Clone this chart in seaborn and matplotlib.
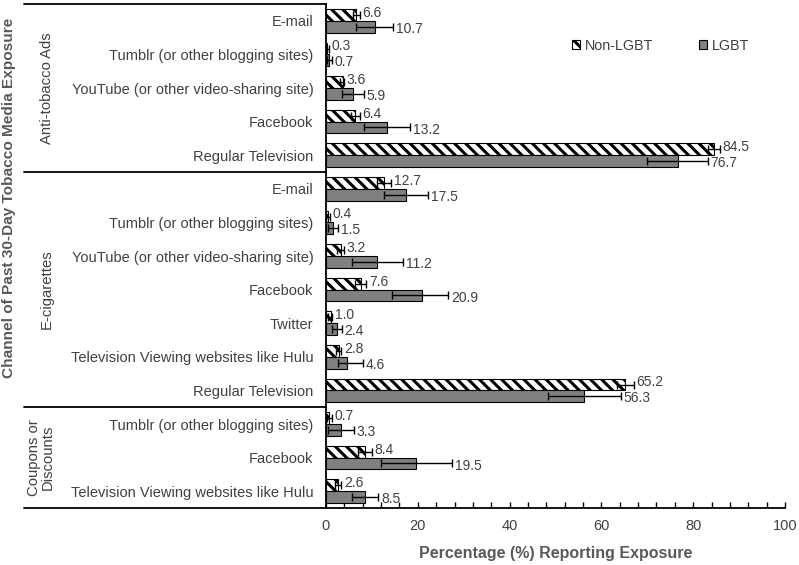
import numpy as np
import pandas as pd
import seaborn as sns
import matplotlib.pyplot as plt
import matplotlib.transforms as mtransforms
from matplotlib.ticker import MultipleLocator

groups = ["Anti-tobacco Ads"] * 5 + ["E-cigarettes"] * 7 + ["Coupons or\nDiscounts"] * 3
channels = [
    "E-mail", "Tumblr (or other blogging sites)", "YouTube (or other video-sharing site)",
    "Facebook", "Regular Television",
    "E-mail", "Tumblr (or other blogging sites)", "YouTube (or other video-sharing site)",
    "Facebook", "Twitter", "Television Viewing websites like Hulu", "Regular Television",
    "Tumblr (or other blogging sites)", "Facebook", "Television Viewing websites like Hulu",
]
non_lgbt = [6.6, 0.3, 3.6, 6.4, 84.5, 12.7, 0.4, 3.2, 7.6, 1.0, 2.8, 65.2, 0.7, 8.4, 2.6]
non_lgbt_lo = [5.8, 0.1, 3.0, 5.4, 83.2, 11.2, 0.1, 2.4, 6.4, 0.5, 2.2, 63.3, 0.3, 7.0, 1.9]
non_lgbt_hi = [7.4, 0.6, 3.9, 7.4, 85.8, 14.2, 0.8, 3.9, 8.8, 1.3, 3.3, 67.1, 1.2, 10.0, 3.3]
lgbt = [10.7, 0.7, 5.9, 13.2, 76.7, 17.5, 1.5, 11.2, 20.9, 2.4, 4.6, 56.3, 3.3, 19.5, 8.5]
lgbt_lo = [6.5, 0.2, 3.5, 8.3, 70.0, 12.6, 0.5, 5.7, 14.4, 1.3, 2.6, 48.4, 0.4, 12.0, 5.7]
lgbt_hi = [14.6, 1.3, 8.3, 18.3, 83.2, 22.2, 2.7, 16.8, 26.6, 3.4, 8.1, 64.3, 6.1, 27.5, 11.4]
series = ["Non-LGBT", "LGBT"]

rows = [f"{g}|{c}" for g, c in zip(groups, channels)]
df = pd.DataFrame({
    "row": rows * 2,
    "series": [series[0]] * len(rows) + [series[1]] * len(rows),
    "value": non_lgbt + lgbt,
})

sns.set_style("white")
plt.rcParams["font.family"] = ["Liberation Sans", "DejaVu Sans"]
plt.rcParams["hatch.linewidth"] = 2.2
grey_text = "#404040"

fig = plt.figure(figsize=(7.99, 5.65), dpi=100)
ax = fig.add_axes([326 / 799, 1 - 508 / 565, 459 / 799, 504 / 565])

sns.barplot(data=df, x="value", y="row", hue="series", orient="h", order=rows,
            hue_order=series, palette={"Non-LGBT": "white", "LGBT": "#808080"},
            saturation=1, width=0.7, edgecolor="black", linewidth=0.8,
            errorbar=None, legend=False, ax=ax)
bar_containers = list(ax.containers)

stats = [(non_lgbt, non_lgbt_lo, non_lgbt_hi), (lgbt, lgbt_lo, lgbt_hi)]
for i, (cont, (vals, lo, hi)) in enumerate(zip(bar_containers, stats)):
    if i == 0:
        for bar in cont:
            bar.set_hatch("\\\\\\")
    vals, lo, hi = np.array(vals), np.array(lo), np.array(hi)
    ys = np.array([b.get_y() + b.get_height() / 2 for b in cont])
    ax.errorbar(vals, ys, xerr=[vals - lo, hi - vals], fmt="none", ecolor="black",
                elinewidth=1, capsize=3, capthick=1)
    nudge = 1.5 if i == 0 else -1.5
    for v, h, y in zip(vals, hi, ys):
        ax.annotate(f"{v:.1f}", (h + 0.6, y), xytext=(0, nudge), textcoords="offset points",
                    va="center", ha="left", fontsize=10, color=grey_text)

ax.set_xlim(0, 100)
ax.set_ylim(14.5, -0.5)
ax.xaxis.set_major_locator(MultipleLocator(20))
ax.xaxis.set_minor_locator(MultipleLocator(4))
ax.tick_params(axis="x", which="both", direction="in", length=4, width=1, color="black",
               labelsize=10.5, labelcolor=grey_text, pad=8, bottom=True)
ax.tick_params(axis="y", length=0, labelsize=10.5, labelcolor=grey_text, pad=9)
ax.set_yticks(range(len(rows)))
ax.set_yticklabels(channels)

for s in ["top", "right"]:
    ax.spines[s].set_visible(False)
for s in ["left", "bottom"]:
    ax.spines[s].set_color("black")
    ax.spines[s].set_linewidth(1.3)

trans = mtransforms.blended_transform_factory(ax.transAxes, ax.transData)
x0 = (24 - 326) / 459
for yb in [-0.5, 4.5, 11.5, 14.5]:
    ax.plot([x0, 0], [yb, yb], transform=trans, color="black", lw=1.3, clip_on=False)

group_names = ["Anti-tobacco Ads", "E-cigarettes", "Coupons or\nDiscounts"]
for g, gx in zip(group_names, [-0.608, -0.608, -0.621]):
    idx = [k for k, name in enumerate(groups) if name == g]
    ax.text(gx, np.mean(idx), g, transform=trans, rotation=90, ha="center", va="center",
            fontsize=10.7, color=grey_text, linespacing=0.95)

ax.set_xlabel("Percentage (%) Reporting Exposure", fontsize=11.5, fontweight="bold",
              color="#595959", labelpad=9)
ax.set_ylabel("")
fig.text(9 / 799, 1 - 198 / 565, "Channel of Past 30-Day Tobacco Media Exposure",
         rotation=90, ha="center", va="center", fontsize=11.1, fontweight="bold", color="#595959")

handles = [c.patches[0] for c in bar_containers]
leg = ax.legend(handles, series, loc="center", bbox_to_anchor=(0.728, 0.917), ncol=2,
                frameon=False, handlelength=0.6, handleheight=0.6, handletextpad=0.3,
                columnspacing=3.2, fontsize=10.3)
for t in leg.get_texts():
    t.set_color(grey_text)

fig.savefig("out.png", dpi=100)
